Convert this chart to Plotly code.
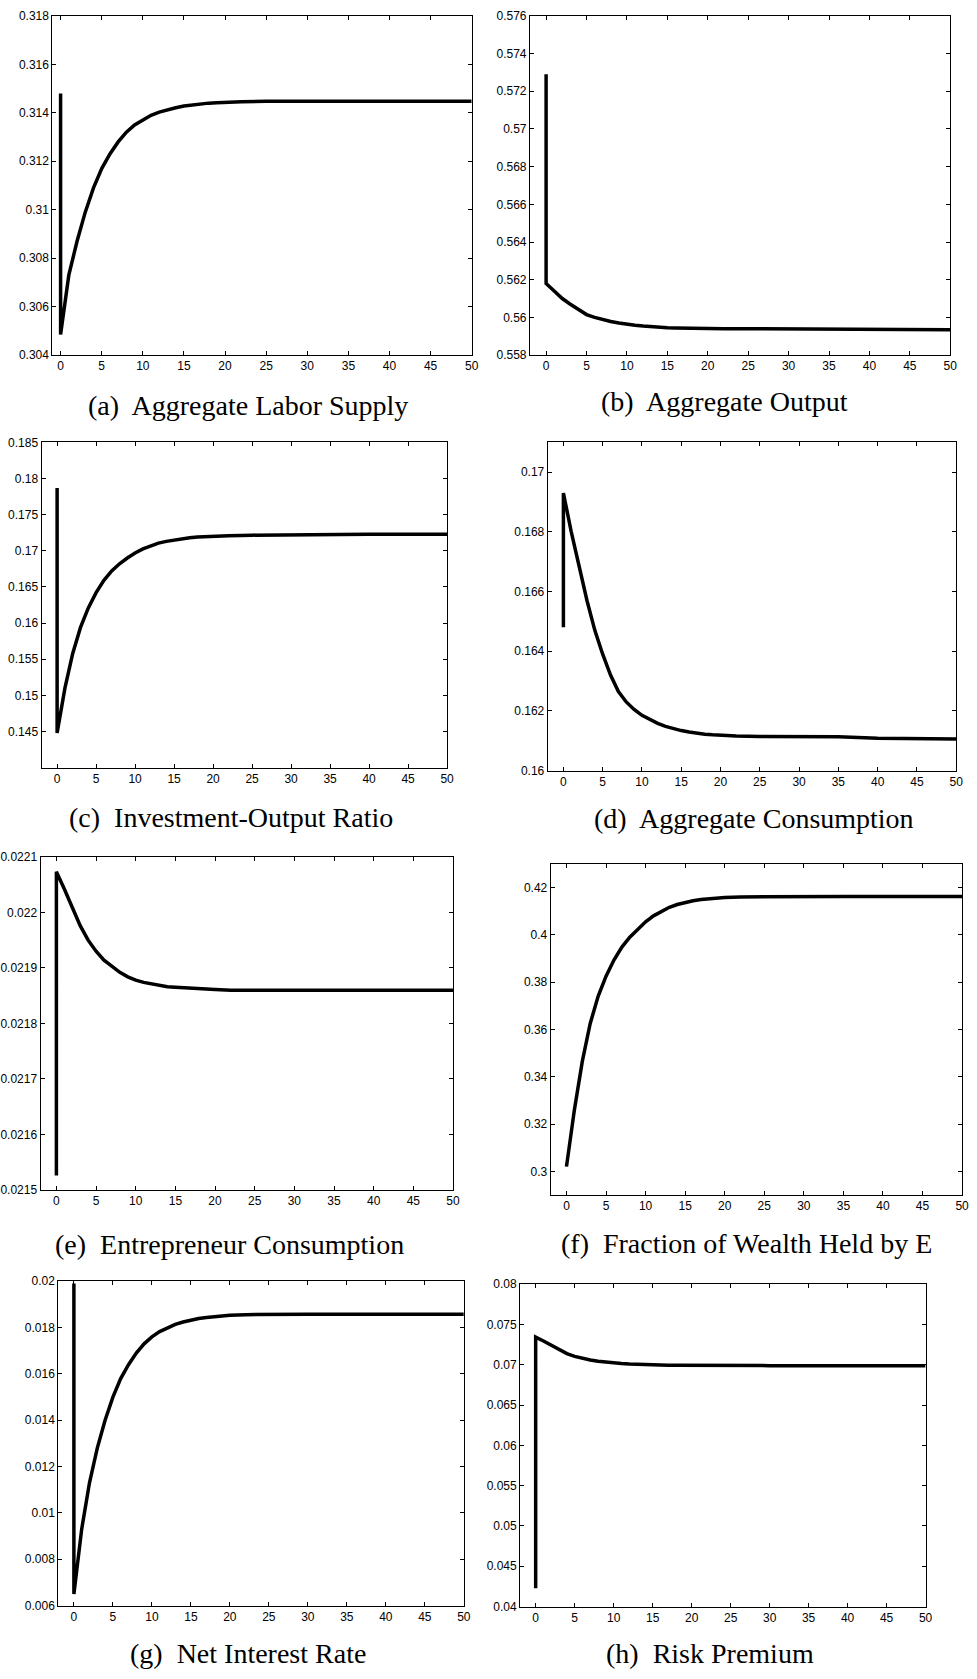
import plotly.graph_objects as go

W, H = 977, 1679

# ---------------- data ----------------
periods = list(range(0, 21)) + [22, 25, 30, 35, 40, 45, 50]

# (a) Aggregate Labor Supply
labor_pre = 0.3148
labor = [0.30485, 0.3073, 0.3087, 0.3099, 0.3109, 0.3117, 0.3123, 0.3128, 0.3132, 0.3135,
         0.31372, 0.3139, 0.31403, 0.31413, 0.31421, 0.31428, 0.31433, 0.31437, 0.3144, 0.31442,
         0.31444, 0.31446, 0.31448, 0.31448, 0.31448, 0.31448, 0.31448, 0.31448]

# (b) Aggregate Output
output_pre = 0.5729
output = [0.5618, 0.5614, 0.5610, 0.5607, 0.5604, 0.56015, 0.5600, 0.55988, 0.55978, 0.5597,
          0.55963, 0.55958, 0.55954, 0.5595, 0.55947, 0.55945, 0.55944, 0.55943, 0.55943, 0.55942,
          0.5594, 0.5594, 0.5594, 0.55939, 0.55938, 0.55937, 0.55936, 0.55935]

# (c) Investment-Output Ratio
invout_pre = 0.1787
invout = [0.1448, 0.1510, 0.1558, 0.1594, 0.1621, 0.1642, 0.1659, 0.1672, 0.1682, 0.1690,
          0.1697, 0.17025, 0.1707, 0.17105, 0.1713, 0.1715, 0.17167, 0.1718, 0.1719, 0.17197,
          0.17202, 0.17209, 0.17216, 0.17224, 0.17227, 0.17228, 0.17228, 0.17228]

# (d) Aggregate Consumption
cons_pre = 0.1648
cons = [0.1693, 0.1680, 0.1668, 0.1657, 0.1647, 0.1639, 0.1632, 0.16265, 0.1623, 0.16205,
        0.16185, 0.1617, 0.16158, 0.16148, 0.1614, 0.16134, 0.16129, 0.16125, 0.16122, 0.1612,
        0.16118, 0.16116, 0.16114, 0.16113, 0.16113, 0.16108, 0.16107, 0.16106]

# (e) Entrepreneur Consumption
econs_pre = 0.021526
econs = [0.022073, 0.022042, 0.022008, 0.021976, 0.021950, 0.021930, 0.021914, 0.021902, 0.021892, 0.021884,
         0.021878, 0.021874, 0.021871, 0.021868, 0.021866, 0.021865, 0.021864, 0.021863, 0.021862, 0.021862,
         0.021861, 0.021860, 0.021860, 0.021860, 0.021860, 0.021860, 0.021860, 0.021860]

# (f) Fraction of Wealth Held by E
wealth = [0.302, 0.326, 0.3465, 0.3625, 0.374, 0.3825, 0.3893, 0.3948, 0.3990, 0.4025,
          0.4055, 0.4080, 0.4100, 0.4116, 0.4128, 0.4137, 0.4144, 0.4149, 0.4153, 0.4156,
          0.4158, 0.4160, 0.4161, 0.4162, 0.4162, 0.4162, 0.4162, 0.4162]

# (g) Net Interest Rate
rate_pre = 0.0199
rate = [0.0065, 0.0093, 0.0113, 0.0128, 0.0140, 0.0150, 0.0158, 0.0164, 0.0169, 0.0173,
        0.0176, 0.01783, 0.0180, 0.01814, 0.01824, 0.01832, 0.01839, 0.01844, 0.01848, 0.01851,
        0.01853, 0.01856, 0.01858, 0.01858, 0.01858, 0.01858, 0.01858, 0.01858]

# (h) Risk Premium
prem_pre = 0.04226
prem = [0.07344, 0.07295, 0.07240, 0.07185, 0.07140, 0.07105, 0.07080, 0.07060, 0.07045, 0.07033,
        0.07024, 0.07017, 0.07011, 0.07006, 0.07002, 0.06999, 0.06997, 0.06995, 0.06994, 0.06993,
        0.06992, 0.06991, 0.0699, 0.0699, 0.0699, 0.0699, 0.06989, 0.06988]

x_ticks = [0, 5, 10, 15, 20, 25, 30, 35, 40, 45, 50]
ticks_a = [0.304, 0.306, 0.308, 0.31, 0.312, 0.314, 0.316, 0.318]
ticks_b = [0.558, 0.56, 0.562, 0.564, 0.566, 0.568, 0.57, 0.572, 0.574, 0.576]
ticks_c = [0.145, 0.15, 0.155, 0.16, 0.165, 0.17, 0.175, 0.18, 0.185]
ticks_d = [0.16, 0.162, 0.164, 0.166, 0.168, 0.17]
ticks_e = [0.0215, 0.0216, 0.0217, 0.0218, 0.0219, 0.022, 0.0221]
ticks_f = [0.3, 0.32, 0.34, 0.36, 0.38, 0.4, 0.42]
ticks_g = [0.006, 0.008, 0.01, 0.012, 0.014, 0.016, 0.018, 0.02]
ticks_h = [0.04, 0.045, 0.05, 0.055, 0.06, 0.065, 0.07, 0.075, 0.08]

captions = ["(a)  Aggregate Labor Supply", "(b)  Aggregate Output",
            "(c)  Investment-Output Ratio", "(d)  Aggregate Consumption",
            "(e)  Entrepreneur Consumption", "(f)  Fraction of Wealth Held by E",
            "(g)  Net Interest Rate", "(h)  Risk Premium"]

# ---------------- layout (pixel boxes) ----------------
panels = [
    # series, pre-jump value, yticks, yrange, xrange, box(x0,x1,y0,y1), caption center
    (labor, labor_pre, ticks_a, [0.304, 0.318], [-1, 50], (47, 472, 9, 351), (245, 402)),
    (output, output_pre, ticks_b, [0.558, 0.576], [-2, 50], (531, 957, 9, 351), (728, 398)),
    (invout, invout_pre, ticks_c, [0.14, 0.185], [-2, 50], (36, 447, 439, 767), (228, 817)),
    (cons, cons_pre, ticks_d, [0.16, 0.171], [-2, 50], (549, 963, 439, 770), (758, 818)),
    (econs, econs_pre, ticks_e, [0.0215, 0.0221], [-2, 50], (35, 453, 857, 1193), (227, 1248)),
    (wealth, None, ticks_f, [0.29, 0.43], [-2, 50], (552, 969, 864, 1198), (750, 1247)),
    (rate, rate_pre, ticks_g, [0.006, 0.02], [-2, 50], (53, 464, 1285, 1612), (245, 1660)),
    (prem, prem_pre, ticks_h, [0.04, 0.08], [-2, 50], (521, 932, 1288, 1613), (713, 1660)),
]

fig = go.Figure()
annotations = []
layout_axes = {}
for i, (ys, pre, yt, yr, xr, box, cap) in enumerate(panels):
    n = i + 1
    sfx = "" if n == 1 else str(n)
    if pre is None:
        xs, yv = list(periods), list(ys)
    else:
        xs, yv = [0] + list(periods), [pre] + list(ys)
    fig.add_trace(go.Scatter(x=xs, y=yv, mode="lines",
                             line=dict(color="black", width=3.5),
                             xaxis="x" + sfx, yaxis="y" + sfx,
                             showlegend=False, hoverinfo="skip"))
    x0, x1, y0, y1 = box
    common = dict(showline=True, linecolor="black", linewidth=1, mirror="ticks",
                  ticks="inside", ticklen=4, tickwidth=1, tickcolor="black",
                  showgrid=False, zeroline=False,
                  tickfont=dict(family="Liberation Sans", size=12, color="black"))
    layout_axes["xaxis" + sfx] = dict(domain=[x0 / W, x1 / W], range=xr,
                                     anchor="y" + sfx, tickvals=x_ticks,
                                     ticktext=[str(v) for v in x_ticks], **common)
    layout_axes["yaxis" + sfx] = dict(domain=[1 - y1 / H, 1 - y0 / H], range=yr,
                                     anchor="x" + sfx, tickvals=yt,
                                     ticktext=[f"{v:g}" for v in yt], **common)
    annotations.append(dict(text=captions[i], x=cap[0] / W, y=1 - cap[1] / H,
                            xref="paper", yref="paper", showarrow=False,
                            xanchor="center", yanchor="middle",
                            font=dict(family="Liberation Serif", size=28, color="black")))

fig.update_layout(width=W, height=H, margin=dict(l=0, r=0, t=0, b=0),
                  paper_bgcolor="white", plot_bgcolor="white",
                  annotations=annotations, **layout_axes)

# remove the default page margin so the figure sits at the window origin
fig.write_html("out.html", config={"displayModeBar": False},
               post_script="document.body.style.margin='0px';document.body.style.overflow='hidden';")
